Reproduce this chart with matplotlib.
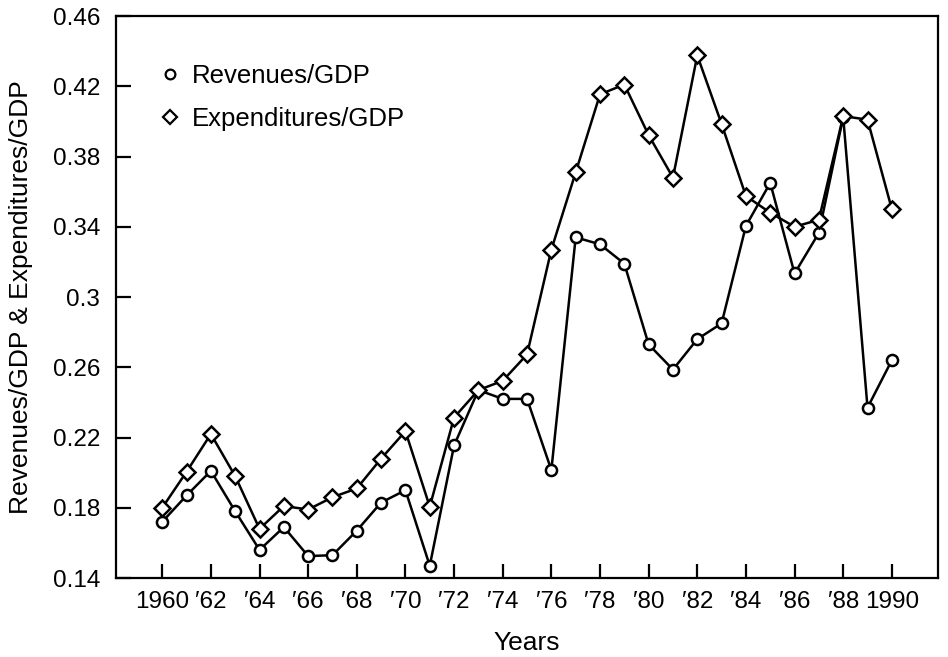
import matplotlib
matplotlib.use("Agg")
import matplotlib.pyplot as plt
from matplotlib.lines import Line2D

years = list(range(1960, 1991))

revenues = [0.172, 0.187, 0.201, 0.178, 0.156, 0.169, 0.1525, 0.153, 0.167, 0.183,
            0.190, 0.147, 0.2155, 0.247, 0.242, 0.242, 0.2015, 0.334, 0.330, 0.319,
            0.273, 0.2587, 0.276, 0.285, 0.3405, 0.365, 0.3134, 0.3365, 0.4025, 0.237,
            0.264]

expenditures = [0.180, 0.2005, 0.222, 0.198, 0.168, 0.181, 0.179, 0.186, 0.191, 0.208,
                0.2236, 0.1806, 0.2314, 0.247, 0.2523, 0.2673, 0.327, 0.371, 0.4154, 0.421,
                0.3922, 0.368, 0.4376, 0.3985, 0.3575, 0.348, 0.340, 0.344, 0.403, 0.401,
                0.350]

xtick_pos = list(range(1960, 1991, 2))
xtick_labels = ["1960", "\u203262", "\u203264", "\u203266", "\u203268", "\u203270", "\u203272",
                "\u203274", "\u203276", "\u203278", "\u203280", "\u203282", "\u203284",
                "\u203286", "\u203288", "1990"]
ytick_pos = [0.14, 0.18, 0.22, 0.26, 0.30, 0.34, 0.38, 0.42, 0.46]
ytick_labels = ["0.14", "0.18", "0.22", "0.26", "0.3", "0.34", "0.38", "0.42", "0.46"]

fam = ["Liberation Sans", "DejaVu Sans"]

fig = plt.figure(figsize=(9.48, 6.57), dpi=100)
ax = fig.add_axes([0.1224, 0.1202, 0.8671, 0.8554])

ax.plot(years, revenues, color="black", lw=1.8, marker="o", ms=8,
        mfc="white", mec="black", mew=1.8)
ax.plot(years, expenditures, color="black", lw=1.8, marker="D", ms=8,
        mfc="white", mec="black", mew=1.8)

ax.set_xlim(1958.1, 1991.9)
ax.set_ylim(0.14, 0.46)
ax.set_xticks(xtick_pos)
ax.set_xticklabels(xtick_labels, family=fam, fontsize=17.5)
ax.set_yticks(ytick_pos)
ax.set_yticklabels(ytick_labels, family=fam, fontsize=17.5)
ax.tick_params(axis="y", direction="in", length=11, width=1.6, pad=11.5)
ax.tick_params(axis="x", direction="in", length=10, width=1.6, pad=9)

for s in ax.spines.values():
    s.set_linewidth(1.6)

ax.set_xlabel("Years", fontsize=19, family=fam, labelpad=13)
ax.set_ylabel("Revenues/GDP & Expenditures/GDP", fontsize=19, family=fam, labelpad=14)

handles = [Line2D([], [], ls="none", marker="o", ms=7, mfc="white", mec="black", mew=1.6),
           Line2D([], [], ls="none", marker="D", ms=7, mfc="white", mec="black", mew=1.6)]
ax.legend(handles, ["Revenues/GDP", "Expenditures/GDP"], loc="upper left",
          bbox_to_anchor=(0.0535, 0.915), frameon=False, borderpad=0, borderaxespad=0,
          prop={"family": fam, "size": 18.5}, handlelength=0.8, handletextpad=0.45,
          labelspacing=0.75)

fig.savefig("out.png", dpi=100)
